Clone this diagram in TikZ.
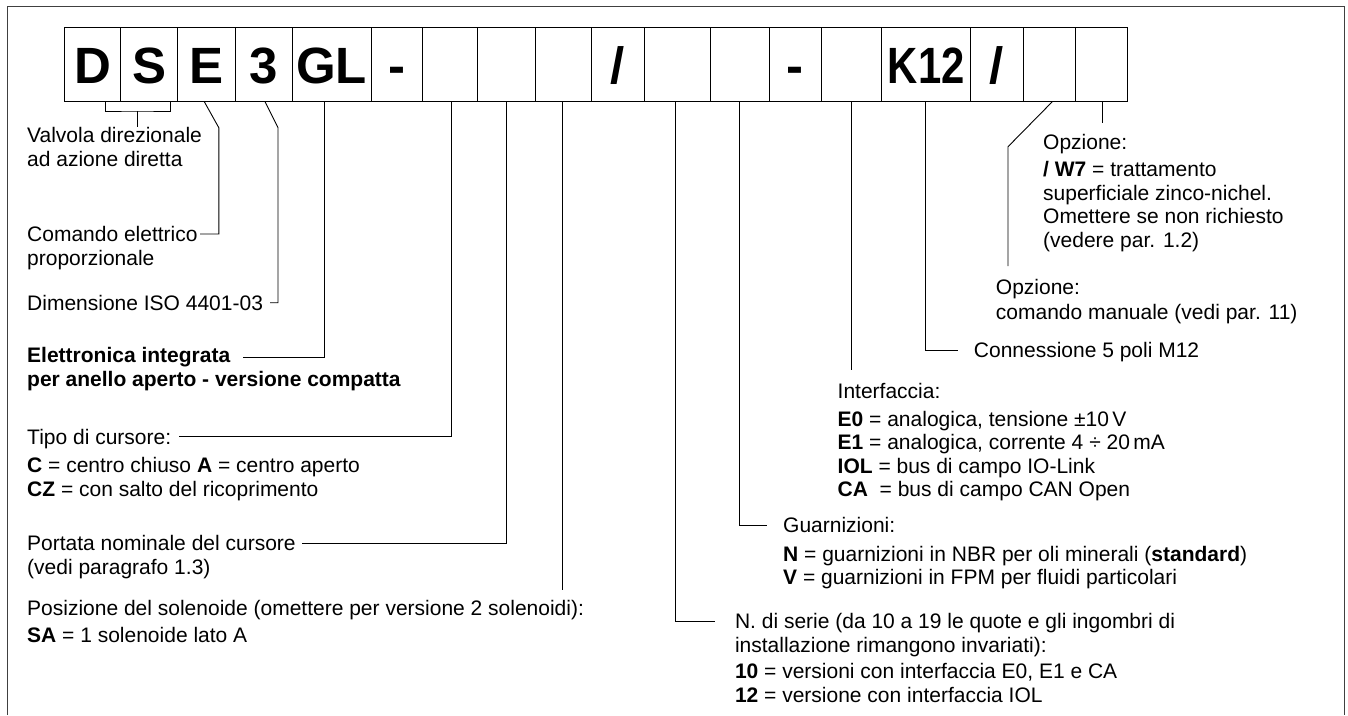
\documentclass[tikz,border=0pt]{standalone}
\usepackage{fontspec}
\setmainfont{Liberation Sans}
\newcommand\tlines[1]{\begin{tabular}[t]{@{}l@{}}#1\end{tabular}}
\begin{document}
\begin{tikzpicture}[x=1pt,y=-1pt,
  frame/.style={draw=black!75,line width=1.3pt},
  cbox/.style={draw=black,line width=1pt,minimum height=74.4pt,inner sep=0pt,outer sep=0pt,
    text height=37.6pt,text depth=0pt,font=\fontsize{51}{51}\selectfont\bfseries},
  lbl/.style={anchor=base west,inner sep=0pt,font=\fontsize{21}{23.5}\selectfont},
  conn/.style={draw=black,line width=0.9pt}]
\useasboundingbox (0,0) rectangle (1348,715);
\draw[frame] (7.3,715) -- (7.3,6.7) -- (1344.7,6.7) -- (1344.7,715);
% code boxes
\node[cbox,minimum width=56.4pt] (b1) at (92.5,64.5) {D};
\node[cbox,minimum width=57pt] (b2) at (149.2,64.5) {S};
\node[cbox,minimum width=57.3pt] (b3) at (206.35,64.5) {E};
\node[cbox,minimum width=57pt] (b4) at (263.5,64.5) {3};
\node[cbox,minimum width=79pt] (b5) at (331.5,64.5) {GL};
\node[cbox,minimum width=51.3pt] (b6) at (396.65,64.5) {-};
\node[cbox,minimum width=55.4pt] (b7) at (450,64.5) {};
\node[cbox,minimum width=57.3pt] (b8) at (506.35,64.5) {};
\node[cbox,minimum width=56.3pt] (b9) at (563.15,64.5) {};
\node[cbox,minimum width=52.7pt] (b10) at (617.65,64.5) {/};
\node[cbox,minimum width=66pt] (b11) at (677,64.5) {};
\node[cbox,minimum width=59pt] (b12) at (739.5,64.5) {};
\node[cbox,minimum width=52.7pt] (b13) at (795.35,64.5) {-};
\node[cbox,minimum width=60pt] (b14) at (851.7,64.5) {};
\node[cbox,minimum width=89pt] (b15) at (926.2,64.5) {\scalebox{0.82}[1]{K12}};
\node[cbox,minimum width=52.6pt] (b16) at (997,64.5) {/};
\node[cbox,minimum width=52.4pt] (b17) at (1049.5,64.5) {};
\node[cbox,minimum width=51.6pt] (b18) at (1101.5,64.5) {};
% left labels
\node[lbl] (t1) at (27,142.5) {\tlines{Valvola direzionale\\ad azione diretta}};
\node[lbl] (t2) at (27,241.8) {\tlines{Comando elettrico\\proporzionale}};
\node[lbl] (t3) at (27,310.2) {Dimensione ISO 4401-03};
\node[lbl,font=\fontsize{21}{23.5}\selectfont\bfseries] (t4) at (27,362.5) {\tlines{Elettronica integrata\\per anello aperto - versione compatta}};
\node[lbl] (t5) at (27,444) {\tlines{Tipo di cursore:\\[5pt]\textbf{C} = centro chiuso \textbf{A} = centro aperto\\\textbf{CZ} = con salto del ricoprimento}};
\node[lbl] (t6) at (27,550.5) {\tlines{Portata nominale del cursore\\(vedi paragrafo 1.3)}};
\node[lbl] (t7) at (27,615.5) {\tlines{Posizione del solenoide (omettere per versione 2 solenoidi):\\[3pt]\textbf{SA} = 1 solenoide lato A}};
% right labels
\node[lbl] (t8) at (1043,149.2) {\tlines{Opzione:\\[4pt]\textbf{/ W7} = trattamento\\superficiale zinco-nichel.\\Omettere se non richiesto\\(vedere par. 1.2)}};
\node[lbl] (t9) at (995.7,294.2) {\tlines{Opzione:\\[1.5pt]comando manuale (vedi par. 11)}};
\node[lbl] (t10) at (973.7,357.5) {Connessione 5 poli M12};
\node[lbl] (t11) at (837.5,398.5) {\tlines{Interfaccia:\\[4pt]\textbf{E0} = analogica, tensione ±10\,V\\\textbf{E1} = analogica, corrente 4 ÷ 20\,mA\\\textbf{IOL} = bus di campo IO-Link\\\textbf{CA}\ \ = bus di campo CAN Open}};
\node[lbl] (t12) at (783,532.5) {\tlines{Guarnizioni:\\[5pt]\textbf{N} = guarnizioni in NBR per oli minerali (\textbf{standard})\\\textbf{V} = guarnizioni in FPM per fluidi particolari}};
\node[lbl] (t13) at (734.8,628.5) {\tlines{N. di serie (da 10 a 19 le quote e gli ingombri di\\installazione rimangono invariati):\\[3pt]\textbf{10} = versioni con interfaccia E0, E1 e CA\\\textbf{12} = versione con interfaccia IOL}};
% connector points
\coordinate (d1) at (105.7,101.7);
\coordinate (d2) at (170.3,101.7);
\coordinate (dm) at (137,111);
\coordinate (dt) at (137,127);
\coordinate (e0) at (204.3,101.7);
\coordinate (e1) at (218.8,127.7);
\coordinate (e2) at (200,234);
\coordinate (f0) at (265,101.7);
\coordinate (f1) at (278,127.7);
\coordinate (f2) at (270,302.7);
\coordinate (g0) at (324.3,101.7);
\coordinate (g1) at (243.3,357);
\coordinate (h0) at (451.7,101.7);
\coordinate (h1) at (178.6,436.5);
\coordinate (i0) at (506,101.7);
\coordinate (i1) at (301.7,543);
\coordinate (j0) at (562.7,101.7);
\coordinate (j1) at (562.7,590);
\coordinate (k0) at (675,101.7);
\coordinate (k1) at (715,621);
\coordinate (l0) at (739,101.7);
\coordinate (l1) at (767,525);
\coordinate (m0) at (851,101.7);
\coordinate (m1) at (851,370);
\coordinate (n0) at (925.3,101.7);
\coordinate (n1) at (958,350);
\coordinate (o0) at (1052.3,101.7);
\coordinate (o1) at (1008,146.7);
\coordinate (o2) at (1008,266);
\coordinate (p0) at (1102,101.7);
\coordinate (p1) at (1102,122.5);
% connectors
\draw[conn] (d1) |- (dm) -| (d2);
\draw[conn] (dm) -- (dt);
\draw[conn] (e0) -- (e1) |- (e2);
\draw[conn] (f0) -- (f1) |- (f2);
\draw[conn] (g0) |- (g1);
\draw[conn] (h0) |- (h1);
\draw[conn] (i0) |- (i1);
\draw[conn] (j0) -- (j1);
\draw[conn] (k0) |- (k1);
\draw[conn] (l0) |- (l1);
\draw[conn] (m0) -- (m1);
\draw[conn] (n0) |- (n1);
\draw[conn] (o0) -- (o1) -- (o2);
\draw[conn] (p0) -- (p1);
\end{tikzpicture}
\end{document}
